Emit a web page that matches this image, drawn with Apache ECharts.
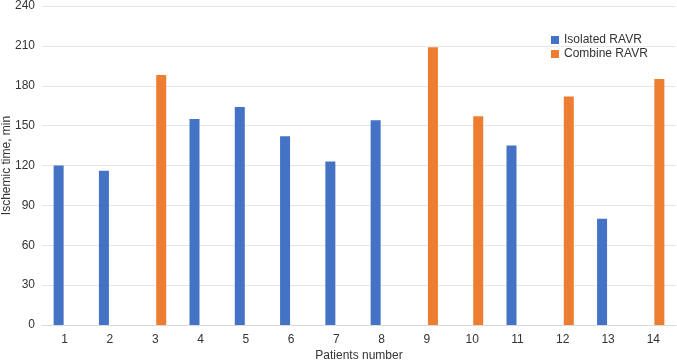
<!DOCTYPE html>
<html>
<head>
<meta charset="utf-8">
<script src="https://cdn.jsdelivr.net/npm/echarts@6/dist/echarts.min.js"></script>
<style>
  html, body { margin: 0; padding: 0; background: #fff; }
  #chart { width: 677px; height: 361px; }
</style>
</head>
<body>
<div id="chart"></div>
<script>
// 患者编号
const patients = ["1", "2", "3", "4", "5", "6", "7", "8", "9", "10", "11", "12", "13", "14"];
// null = no bar for that group
const isolated = [120, 116, null, 155, 164, 142, 123, 154, null, null, 135, null, 80, null];
const combine = [null, null, 188, null, null, null, null, null, 209, 157, null, 172, null, 185];
const yTicks = { min: 0, max: 240, interval: 30 };

const chart = echarts.init(document.getElementById("chart"));
const font = "Liberation Sans, Arial, Helvetica, sans-serif";

const option = {
  animation: false,
  textStyle: { fontFamily: font },
  grid: { left: 42, right: 1, top: 6, bottom: 36, containLabel: false, outerBoundsMode: "none" },
  legend: {
    orient: "vertical",
    left: 546,
    top: 29,
    itemWidth: 8,
    itemHeight: 8,
    itemGap: 2,
    icon: "rect",
    textStyle: { fontSize: 12, color: "#333", fontFamily: font },
    data: ["Isolated RAVR", "Combine RAVR"]
  },
  xAxis: {
    type: "category",
    data: patients,
    name: "Patients number",
    nameLocation: "middle",
    nameGap: 25,
    nameMoveOverlap: false,
    nameTextStyle: { fontSize: 12, color: "#333" },
    axisLine: { lineStyle: { color: "#d9d9d9" } },
    axisTick: { show: false },
    axisLabel: { fontSize: 12, color: "#333", margin: 9 }
  },
  yAxis: {
    type: "value",
    min: yTicks.min,
    max: yTicks.max,
    interval: yTicks.interval,
    name: "Ischemic time, min",
    nameLocation: "middle",
    nameGap: 29,
    nameMoveOverlap: false,
    nameTextStyle: { fontSize: 12, color: "#333" },
    axisLine: { show: false },
    axisTick: { show: false },
    axisLabel: { fontSize: 12, color: "#333", margin: 7 },
    splitLine: { lineStyle: { color: "#e6e6e6" } }
  },
  series: [
    {
      name: "Isolated RAVR",
      type: "bar",
      data: isolated,
      barWidth: 10,
      barGap: "20%",
      itemStyle: { color: "#4472C4" }
    },
    {
      name: "Combine RAVR",
      type: "bar",
      data: combine,
      barWidth: 10,
      itemStyle: { color: "#ED7D31" }
    }
  ]
};
chart.setOption(option);
</script>
</body>
</html>
